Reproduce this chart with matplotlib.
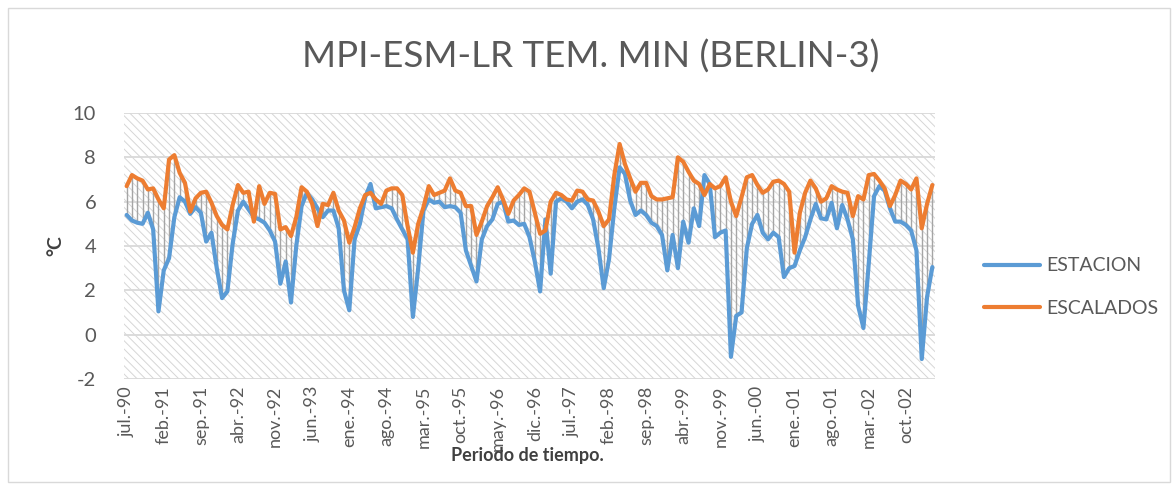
import matplotlib
matplotlib.use("Agg")
import matplotlib.pyplot as plt
from matplotlib.patches import Rectangle
from matplotlib.lines import Line2D

# ---------------- data ----------------
months_es = ["ene.", "feb.", "mar.", "abr.", "may.", "jun.",
             "jul.", "ago.", "sep.", "oct.", "nov.", "dic."]
start_year = 1990
start_month = 7   # julio 1990

estacion = [
    5.4, 5.15, 5.05, 5.0, 5.5, 4.75, 1.05, 2.9, 3.45, 5.3,
    6.2, 6.0, 5.45, 5.75, 5.5, 4.2, 4.6, 3.0, 1.65, 1.95,
    4.1, 5.6, 6.0, 5.65, 5.3, 5.2, 5.05, 4.7, 4.2, 2.3,
    3.3, 1.45, 4.0, 5.8, 6.4, 6.1, 5.7, 5.3, 5.6, 5.6,
    4.8, 2.0, 1.1, 4.3, 5.0, 6.2, 6.8, 5.7, 5.75, 5.8,
    5.7, 5.2, 4.75, 4.3, 0.8, 3.0, 5.6, 6.1, 5.95, 6.0,
    5.75, 5.8, 5.75, 5.5, 3.8, 3.1, 2.4, 4.3, 4.9, 5.2,
    5.9, 6.0, 5.1, 5.15, 4.95, 5.0, 4.4, 3.3, 1.95, 5.2,
    2.75, 6.0, 6.15, 6.0, 5.7, 6.0, 6.1, 5.85, 5.2, 3.9,
    2.1, 3.4, 5.7, 7.55, 7.25, 6.05, 5.4, 5.6, 5.4, 5.05,
    4.9, 4.5, 2.9, 4.5, 3.0, 5.1, 4.15, 5.7, 4.9, 7.2,
    6.8, 4.4, 4.6, 4.7, -1.0, 0.85, 1.0, 3.9, 5.0, 5.4,
    4.6, 4.3, 4.6, 4.4, 2.6, 3.0, 3.1, 3.8, 4.4, 5.2,
    5.9, 5.25, 5.2, 5.95, 4.8, 5.85, 5.2, 4.3, 1.3, 0.3,
    3.2, 6.25, 6.7, 6.5, 5.7, 5.1, 5.1, 4.95, 4.7, 3.8,
    -1.1, 1.7, 3.05,
]

escalados = [
    6.7, 7.2, 7.05, 6.95, 6.55, 6.6, 6.1, 5.7, 7.9, 8.1,
    7.3, 6.85, 5.55, 6.15, 6.4, 6.45, 5.95, 5.35, 4.95, 4.75,
    5.85, 6.75, 6.4, 6.45, 5.1, 6.7, 5.9, 6.4, 6.35, 4.75,
    4.85, 4.45, 5.3, 6.65, 6.45, 5.9, 4.9, 5.9, 5.85, 6.4,
    5.6, 5.15, 4.15, 4.85, 5.7, 6.3, 6.4, 6.1, 5.9, 6.5,
    6.6, 6.6, 6.3, 4.9, 3.7, 5.0, 5.75, 6.7, 6.3, 6.4,
    6.5, 7.05, 6.5, 6.4, 5.8, 5.8, 4.5, 5.1, 5.8, 6.2,
    6.65, 6.1, 5.45, 6.05, 6.3, 6.6, 6.45, 5.5, 4.55, 4.7,
    6.0, 6.4, 6.3, 6.1, 6.05, 6.5, 6.45, 6.1, 6.05, 5.55,
    4.9, 5.2, 7.2, 8.6, 7.7, 7.05, 6.45, 6.85, 6.85, 6.25,
    6.1, 6.1, 6.15, 6.2, 8.0, 7.8, 7.35, 6.95, 6.8, 6.3,
    6.8, 6.6, 6.7, 7.1, 6.0, 5.35, 6.2, 7.1, 7.2, 6.75,
    6.4, 6.55, 6.9, 6.95, 6.8, 6.45, 3.7, 5.5, 6.4, 6.95,
    6.6, 6.0, 6.15, 6.7, 6.55, 6.45, 6.4, 5.35, 6.25, 6.1,
    7.2, 7.25, 6.95, 6.6, 5.8, 6.3, 6.95, 6.8, 6.55, 7.05,
    4.8, 5.9, 6.75,
]

label_step = 7
y_ticks = [-2, 0, 2, 4, 6, 8, 10]
title = "MPI-ESM-LR TEM. MIN (BERLIN-3)"
x_title = "Periodo de tiempo."
y_title = "°C"
series_names = ["ESTACION", "ESCALADOS"]

# ---------------- build categories ----------------
n = len(estacion)
cats = []
for k in range(n):
    m = (start_month - 1 + k) % 12
    yr = start_year + (start_month - 1 + k) // 12
    cats.append(f"{months_es[m]}-{yr % 100:02d}")
x = list(range(n))

# ---------------- style ----------------
plt.rcParams["font.family"] = ["Lato", "DejaVu Sans"]
plt.rcParams["hatch.linewidth"] = 0.7
txt = "#595959"
blue = "#5b9bd5"
orange = "#ed7d31"
grid = "#d9d9d9"

W, H = 1172, 484
fig = plt.figure(figsize=(W / 100, H / 100), dpi=100)

# chart outer frame
fig.patches.append(Rectangle((8 / W, 2 / H), (W - 10) / W, (H - 10) / H,
                             transform=fig.transFigure, fill=False,
                             edgecolor="#d9d9d9", linewidth=1.0))

L, R, T, B = 124, 935, 113, 379
ax = fig.add_axes([L / W, 1 - B / H, (R - L) / W, (B - T) / H])
ax.patch.set_visible(False)

# hatched plot area background
ax.add_patch(Rectangle((0, 0), 1, 1, transform=ax.transAxes, facecolor="white",
                       edgecolor="#d6d6d6", hatch="\\\\\\\\", linewidth=0,
                       zorder=0))

for yv in y_ticks:
    ax.axhline(yv, color=grid, linewidth=1.3, zorder=1)

lo = [min(a, b) for a, b in zip(estacion, escalados)]
hi = [max(a, b) for a, b in zip(estacion, escalados)]
ax.vlines(x, lo, hi, color="#a5a5a5", linewidth=1.0, zorder=2)

ax.plot(x, estacion, color=blue, linewidth=3.0, solid_joinstyle="round",
        solid_capstyle="round", zorder=3)
ax.plot(x, escalados, color=orange, linewidth=3.0, solid_joinstyle="round",
        solid_capstyle="round", zorder=4)

ax.set_xlim(-0.5, n - 0.5)
ax.set_ylim(-2, 10)
ax.set_yticks(y_ticks)
ax.set_yticklabels([str(v) for v in y_ticks])
ticks = x[::label_step]
ax.set_xticks(ticks)
ax.set_xticklabels([cats[i] for i in ticks], rotation=90)
ax.tick_params(axis="both", length=0, colors=txt)
ax.tick_params(axis="y", pad=20, labelsize=14.5)
ax.tick_params(axis="x", pad=5, labelsize=13)
for s in ax.spines.values():
    s.set_visible(False)

fig.text(0.504, 1 - 57 / H, title, ha="center", va="center",
         fontsize=26.5, color=txt, fontweight="normal")
fig.text(56 / W, 1 - 246 / H, y_title, ha="center", va="center", rotation=90,
         fontsize=14, color="#404040", fontweight="bold")
fig.text(527 / W, 1 - 456 / H, x_title, ha="center", va="center",
         fontsize=13, color="#404040", fontweight="bold")

handles = [Line2D([], [], color=blue, linewidth=3.0, solid_capstyle="round"),
           Line2D([], [], color=orange, linewidth=3.0, solid_capstyle="round")]
leg = fig.legend(handles, series_names, loc="center left",
                 bbox_to_anchor=(966 / W, 1 - 287 / H), frameon=False,
                 fontsize=14, handlelength=2.9, handletextpad=0.35,
                 labelspacing=1.3, labelcolor=txt)

fig.savefig("out.png", dpi=100, facecolor="white")
